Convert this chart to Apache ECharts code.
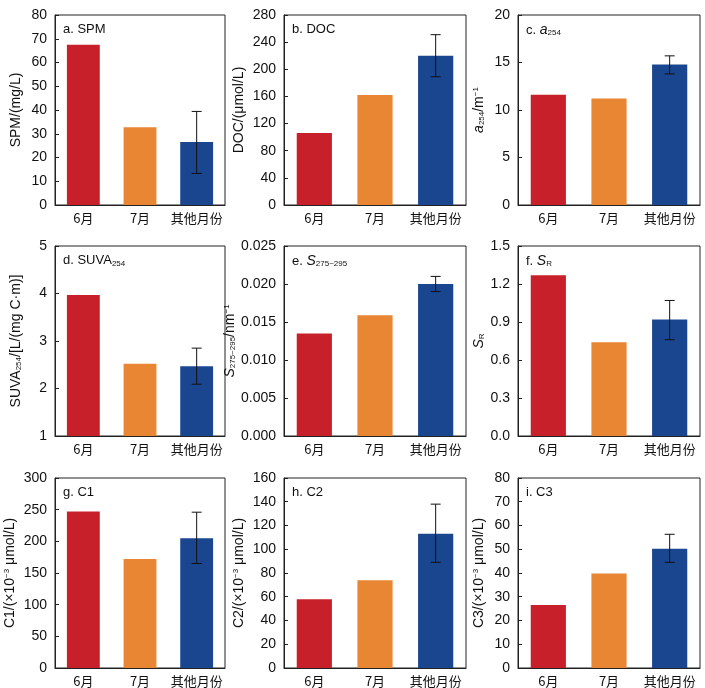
<!DOCTYPE html>
<html><head><meta charset="utf-8">
<script src="https://cdn.jsdelivr.net/npm/echarts@6/dist/echarts.min.js"></script>
<style>html,body{margin:0;background:#fff}#c{width:705px;height:688px}</style>
</head><body><div id="c"></div>
<script>
const categories = ['6月', '7月', '其他月份']
const colors = ['#c8202a', '#e98633', '#1a4690']

// panel data: value per category, error (low, high) on 其他月份 only
const spm = [67.5, 32.7, 26.5], spmErr = [13.3, 39.4]
const doc = [106, 162, 220], docErr = [189, 251]
const a254 = [11.6, 11.2, 14.8], a254Err = [13.8, 15.7]
const suva = [3.97, 2.52, 2.47], suvaErr = [2.09, 2.85]
const slope = [0.0135, 0.0159, 0.0200], slopeErr = [0.0190, 0.0210]
const sr = [1.27, 0.74, 0.92], srErr = [0.76, 1.07]
const c1 = [247, 172, 205], c1Err = [165, 246]
const c2 = [58, 74, 113], c2Err = [89, 138]
const c3 = [26.5, 39.8, 50.2], c3Err = [44.5, 56.3]

const panels = [
  { title: 'a. SPM', yname: 'SPM/(mg/L)', data: spm, err: spmErr, min: 0, max: 80, step: 10, dec: 0 },
  { title: 'b. DOC', yname: 'DOC/(μmol/L)', data: doc, err: docErr, min: 0, max: 280, step: 40, dec: 0 },
  { title: 'c. {i|a}{s|254}', yname: '{i|a}{s|254}/m{p|−1}', data: a254, err: a254Err, min: 0, max: 20, step: 5, dec: 0 },
  { title: 'd. SUVA{s|254}', yname: 'SUVA{s|254}/[L/(mg C·m)]', data: suva, err: suvaErr, min: 1, max: 5, step: 1, dec: 0 },
  { title: 'e. {i|S}{s|275~295}', yname: '{i|S}{s|275~295}/nm{p|−1}', data: slope, err: slopeErr, min: 0, max: 0.025, step: 0.005, dec: 3 },
  { title: 'f. {i|S}{s|R}', yname: '{i|S}{s|R}', data: sr, err: srErr, min: 0, max: 1.5, step: 0.3, dec: 1 },
  { title: 'g. C1', yname: 'C1/(×10{p|−3} μmol/L)', data: c1, err: c1Err, min: 0, max: 300, step: 50, dec: 0 },
  { title: 'h. C2', yname: 'C2/(×10{p|−3} μmol/L)', data: c2, err: c2Err, min: 0, max: 160, step: 20, dec: 0 },
  { title: 'i. C3', yname: 'C3/(×10{p|−3} μmol/L)', data: c3, err: c3Err, min: 0, max: 80, step: 10, dec: 0 }
]

const lefts = [55, 284, 518], widths = [170, 182, 182]
const tops = [15, 246, 478], height = 190
const rich = {
  i: { fontStyle: 'italic', fontSize: 14, color: '#111' },
  s: { fontSize: 8, verticalAlign: 'bottom', padding: [6, 0, 0, 0], color: '#111' },
  p: { fontSize: 8, verticalAlign: 'top', padding: [0, 0, 6, 0], color: '#111' }
}
const font = 'Liberation Sans, Arial, sans-serif'

const grid = [], xAxis = [], yAxis = [], series = [], graphic = []
panels.forEach((p, k) => {
  const r = Math.floor(k / 3), c = k % 3
  grid.push({ left: lefts[c], top: tops[r], width: widths[c], height: height, show: true, borderColor: '#222', borderWidth: 1 })
  xAxis.push({
    gridIndex: k, type: 'category', data: categories,
    axisLine: { lineStyle: { color: '#222' } }, axisTick: { show: false },
    axisLabel: { interval: 0, color: '#111', fontSize: 13, fontFamily: 'Noto Sans CJK SC', margin: 7 }
  })
  yAxis.push({
    gridIndex: k, type: 'value', min: p.min, max: p.max, interval: p.step,
    name: p.yname, nameLocation: 'middle', nameGap: p.dec === 3 ? 46 : (p.max >= 100 ? 38 : 32),
    nameTextStyle: { color: '#111', fontSize: 14, fontFamily: font, rich: rich },
    axisLine: { show: true, lineStyle: { color: '#222' } },
    axisTick: { show: true, inside: true, length: 4, lineStyle: { color: '#222' } },
    splitLine: { show: false },
    axisLabel: { color: '#111', fontSize: 14, fontFamily: font, formatter: v => v.toFixed(p.dec) }
  })
  series.push({
    type: 'bar', xAxisIndex: k, yAxisIndex: k, barWidth: '58%',
    data: p.data.map((v, i) => ({ value: v, itemStyle: { color: colors[i] } }))
  })
  series.push({
    type: 'custom', xAxisIndex: k, yAxisIndex: k, z: 5,
    data: [[2, p.err[0], p.err[1]]],
    renderItem: (params, api) => {
      const lo = api.coord([api.value(0), api.value(1)])
      const hi = api.coord([api.value(0), api.value(2)])
      const w = 5, st = { stroke: '#111', lineWidth: 1 }
      return { type: 'group', children: [
        { type: 'line', shape: { x1: lo[0], y1: lo[1], x2: hi[0], y2: hi[1] }, style: st },
        { type: 'line', shape: { x1: lo[0] - w, y1: lo[1], x2: lo[0] + w, y2: lo[1] }, style: st },
        { type: 'line', shape: { x1: hi[0] - w, y1: hi[1], x2: hi[0] + w, y2: hi[1] }, style: st }
      ] }
    }
  })
  graphic.push({
    type: 'text', left: lefts[c] + 8, top: tops[r] + 8,
    style: { text: p.title, fill: '#111', fontSize: 13, fontFamily: font, rich: rich }
  })
})

echarts.init(document.getElementById('c')).setOption({
  animation: false, grid, xAxis, yAxis, series, graphic
})
</script></body></html>
